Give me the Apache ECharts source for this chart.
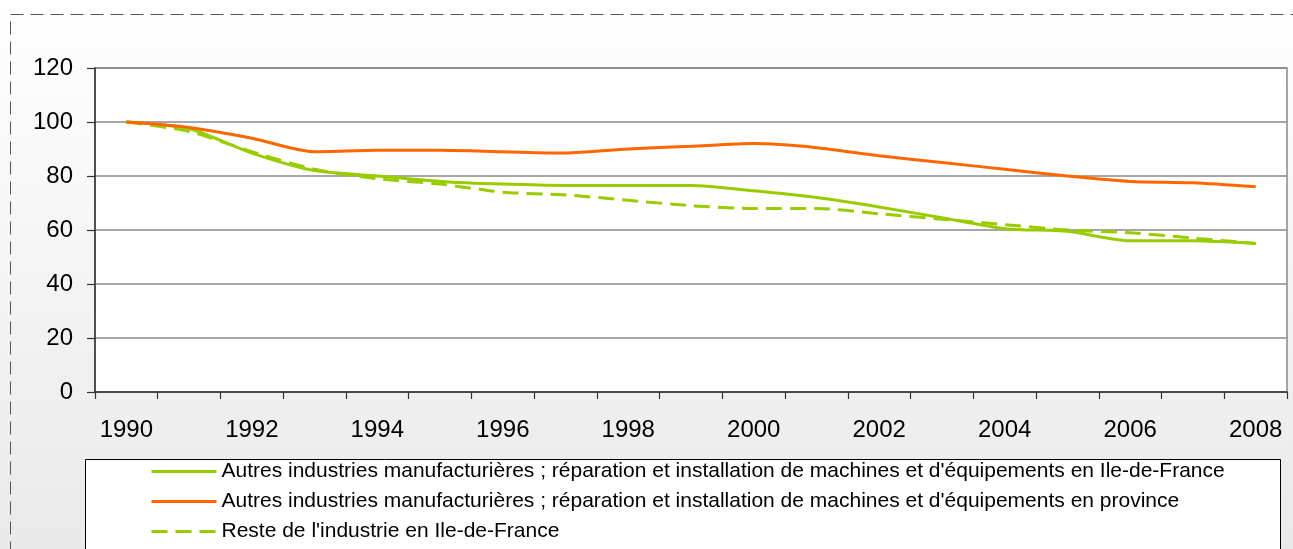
<!DOCTYPE html>
<html>
<head>
<meta charset="utf-8">
<script src="https://cdn.jsdelivr.net/npm/echarts@6/dist/echarts.min.js"></script>
<style>
html,body{margin:0;padding:0;background:#fff;}
#chart{width:1293px;height:549px;}
</style>
</head>
<body>
<div id="chart"></div>
<script>
const years = ['1990','1991','1992','1993','1994','1995','1996','1997','1998','1999','2000','2001','2002','2003','2004','2005','2006','2007','2008'];
const idfAutres = [100, 97.5, 88.5, 82, 80, 78, 77, 76.5, 76.5, 76.5, 74.5, 72, 68.5, 64.5, 60.5, 59.5, 56, 56, 55];
const provAutres = [100, 98, 94, 89, 89.5, 89.5, 89, 88.5, 90, 91, 92, 90.5, 87.5, 85, 82.5, 80, 78, 77.5, 76];
const idfReste = [100, 96.5, 89, 82.5, 79, 77, 74, 73, 71, 69, 68, 68, 66, 64, 62, 60, 59, 57, 55];
const seriesNames = [
  "Autres industries manufacturières ; réparation et installation de machines et d'équipements en Ile-de-France",
  "Autres industries manufacturières ; réparation et installation de machines et d'équipements en province",
  "Reste de l'industrie en Ile-de-France"
];
const yTicks = {min: 0, max: 120, interval: 20};

const chart = echarts.init(document.getElementById('chart'));
const font = 'Liberation Sans, Arial, sans-serif';
chart.setOption({
  animation: false,
  backgroundColor: {type:'linear', x:0, y:0, x2:0, y2:1, colorStops:[{offset:0,color:'#ffffff'},{offset:1,color:'#e9e9e9'}]},
  graphic: [
    {type:'rect', shape:{x:10.5,y:14.5,width:1400,height:600}, style:{fill:null, stroke:'#555', lineWidth:1, lineDash:[13,7]}, z:0, silent:true},
    {type:'rect', shape:{x:85.5,y:459.5,width:1195,height:200}, style:{fill:'#ffffff', stroke:'#000', lineWidth:1}, z:0, silent:true}
  ],
  grid: {left:95, right:6, top:68, bottom:157, show:true, backgroundColor:'#ffffff', borderColor:'#888', borderWidth:1.5},
  legend: {
    orient:'vertical', left:150, top:461, itemWidth:65, itemHeight:14, itemGap:9, padding:0,
    itemStyle:{opacity:0},
    lineStyle:{width:3},
    textStyle:{fontFamily:font, fontSize:21, lineHeight:21, color:'#000'},
    data: seriesNames
  },
  xAxis: {
    type:'category', data: years, boundaryGap:true,
    axisLine:{lineStyle:{color:'#333', width:1.5}},
    axisTick:{show:true, interval:0, length:7, lineStyle:{color:'#333', width:1.2}},
    axisLabel:{interval:1, fontFamily:font, fontSize:24, color:'#000', margin:26}
  },
  yAxis: {
    type:'value', min:yTicks.min, max:yTicks.max, interval:yTicks.interval,
    axisLine:{show:true, lineStyle:{color:'#333', width:1.5}},
    axisTick:{show:true, length:8, lineStyle:{color:'#333', width:1.2}},
    axisLabel:{fontFamily:font, fontSize:24, color:'#000', margin:22},
    splitLine:{lineStyle:{color:'#888', width:1.5}}
  },
  series: [
    {name:seriesNames[0], type:'line', data:idfAutres, smooth:0.25, symbol:'none', lineStyle:{color:'#99cc00', width:3}, itemStyle:{color:'#99cc00'}, z:3},
    {name:seriesNames[1], type:'line', data:provAutres, smooth:0.25, symbol:'none', lineStyle:{color:'#ff6600', width:3}, itemStyle:{color:'#ff6600'}, z:3},
    {name:seriesNames[2], type:'line', data:idfReste, smooth:0.25, symbol:'none', lineStyle:{color:'#99cc00', width:3, type:[16,8]}, itemStyle:{color:'#99cc00'}, z:2}
  ]
});
</script>
</body>
</html>
